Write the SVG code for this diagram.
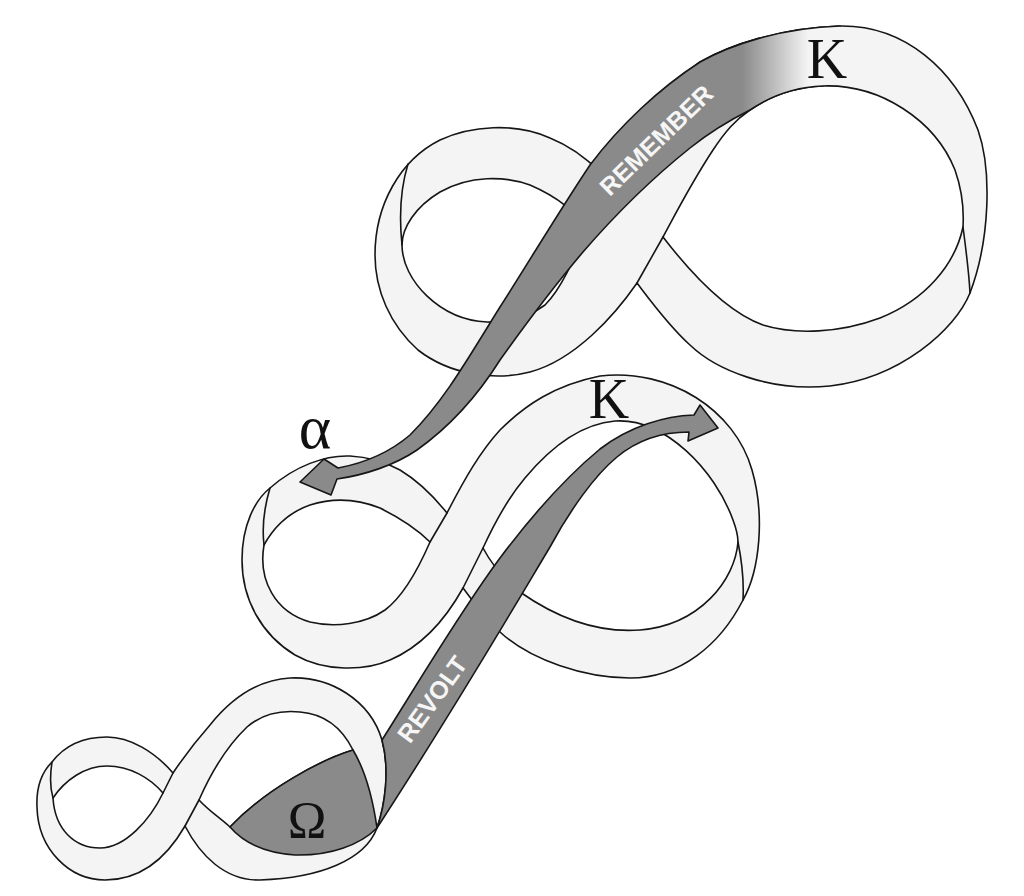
<svg xmlns="http://www.w3.org/2000/svg" width="1024" height="896" viewBox="0 0 1024 896">
  <defs>
    <style>
      .rib { fill: #f4f4f4; fill-rule: evenodd; stroke: #161616; stroke-width: 1.6; stroke-linejoin: round; }
      .edge { fill: none; stroke: #161616; stroke-width: 1.6; stroke-linejoin: round; stroke-linecap: round; }
      .band { stroke: none; }
      .gray { fill: #8a8a8a; }
      .serif { font-family: "Liberation Serif", "Times New Roman", serif; fill: #111; }
      .bandtxt { font-family: "Liberation Sans", Arial, sans-serif; font-weight: bold; font-size: 25px; fill: #f6f6f6; text-anchor: middle; }
    </style>
    <linearGradient id="fade" gradientUnits="userSpaceOnUse" x1="742" y1="0" x2="808" y2="0">
      <stop offset="0" stop-color="#8a8a8a"/>
      <stop offset="0.55" stop-color="#c4c4c4"/>
      <stop offset="1" stop-color="#f4f4f4"/>
    </linearGradient>
  </defs>
  <rect width="1024" height="896" fill="#ffffff"/>

  <!-- top figure-eight ribbon -->
  <g id="loop-top">
    <path class="rib" d="M600,172 C615,140 650,100 700,62 C730,45 780,28 840,26 C905,25 955,70 978,130 C992,170 990,240 970,293 C955,330 900,378 830,386 C770,392 716,370 690,345 C668,325 650,300 637,283 C615,315 575,360 530,372 C495,381 450,375 418,350 C390,325 375,290 375,255 C375,205 400,160 440,140 C470,126 515,122 550,138 C570,146 588,160 600,172 Z
      M585,228 C575,212 560,198 530,185 C505,176 470,175 440,192 C415,207 402,228 402,245 C402,280 440,320 487,322 C510,323 530,316 545,305 C560,290 575,260 585,228 Z
      M663,237 C675,215 690,185 713,150 C725,132 735,120 750,110 C772,95 795,87 823,86 C880,84 935,120 955,170 C962,190 964,210 963,227 C955,265 925,300 880,318 C840,333 795,335 763,325 C735,315 700,285 663,237 Z"/>
    <path class="edge" d="M585,228 C590,210 595,190 600,172 M637,283 L663,237 M408,164 C400,190 399,216 402,245 M963,227 C966,250 969,272 970,293"/>
  </g>

  <!-- middle figure-eight ribbon -->
  <g id="loop-middle">
    <path class="rib" d="M447,513 C465,478 480,452 500,430 C525,405 555,385 600,376 C670,368 735,410 752,470 C765,515 760,570 743,600 C720,645 680,678 630,678 C585,678 530,660 500,632 C485,618 472,600 463,588 C448,615 425,645 390,660 C365,671 325,672 295,655 C262,635 242,600 242,560 C242,525 255,500 270,488 C295,466 325,455 350,456 C370,457 385,462 400,470 C420,482 435,498 447,513 Z
      M430,542 C418,530 400,518 380,508 C360,500 335,497 310,505 C290,512 275,525 264,545 C258,580 275,612 310,622 C335,628 365,624 385,610 C405,595 420,565 430,542 Z
      M483,548 C495,522 508,498 525,478 C550,448 580,424 615,421 C665,418 715,470 733,520 C736,528 738,535 738,542 C735,580 700,625 640,630 C600,633 560,620 520,592 C505,580 492,565 483,548 Z"/>
    <path class="edge" d="M430,542 L447,513 M463,588 L483,548 M270,488 C264,508 262,528 264,545 M738,542 C742,562 744,582 743,600"/>
  </g>

  <!-- bottom figure-eight ribbon -->
  <g id="loop-bottom">
    <path class="rib" d="M173,773 C185,755 195,742 210,725 C230,700 255,680 290,678 C330,676 370,700 382,740 C390,770 385,805 377,828 C365,860 320,878 260,880 C225,881 200,855 185,826 C170,852 145,880 105,880 C70,880 38,850 37,807 C36,785 42,772 52,762 C65,745 85,737 107,737 C130,737 155,752 173,773 Z
      M163,793 C150,778 130,766 107,766 C85,766 65,780 53,798 C55,830 75,848 100,848 C125,848 150,820 163,793 Z
      M199,800 C210,775 225,748 247,727 C262,714 280,710 300,712 C325,714 342,728 353,750 C320,760 265,790 230,827 C220,818 208,810 199,800 Z"/>
    <path class="edge" d="M163,793 L173,773 M185,826 L199,800 M52,762 C50,775 50,788 53,798"/>
    <path id="omega-patch" class="gray" stroke="#161616" stroke-width="1.6" stroke-linejoin="round" d="M230,827 C265,790 320,760 353,750 C365,770 373,800 377,828 C360,845 330,856 295,855 C265,853 243,842 230,827 Z"/>
  </g>

  <!-- REMEMBER band ending in the alpha arrow -->
  <g id="band-remember">
    <path class="band" fill="url(#fade)" d="M840,26 C780,28 730,45 700,62 C660,88 620,125 590,165 C560,210 530,260 500,307 C470,355 445,400 410,435 C390,452 365,463 338,468 L324,459 L300,482 L331,495 L337,479 C365,475 395,465 417,450 C445,430 475,400 500,360 C525,325 555,285 583,252 C615,215 650,180 690,148 C710,132 730,120 750,110 C772,95 795,87 823,86 Z"/>
    <path class="edge" d="M840,26 C780,28 730,45 700,62 C660,88 620,125 590,165 C560,210 530,260 500,307 C470,355 445,400 410,435 C390,452 365,463 338,468 L324,459 L300,482 L331,495 L337,479 C365,475 395,465 417,450 C445,430 475,400 500,360 C525,325 555,285 583,252 C615,215 650,180 690,148 C710,132 730,120 750,110 C772,95 795,87 823,86"/>
    <text class="bandtxt" transform="translate(656,140) rotate(-44)" y="9">REMEMBER</text>
  </g>

  <!-- REVOLT band ending in the kappa arrow -->
  <g id="band-revolt">
    <path class="gray" stroke="#161616" stroke-width="1.6" stroke-linejoin="round" d="M382,740 C420,680 460,612 500,558 C530,518 565,478 600,449 C630,426 665,416 694,415 L700,405 L718,428 L688,441 L689,432 C660,432 635,442 617,457 C595,475 570,510 550,547 C520,597 460,700 377,828 C385,805 390,770 382,740 Z"/>
    <text class="bandtxt" transform="translate(432,699) rotate(-54)" y="9">REVOLT</text>
  </g>

  <!-- letters -->
  <g id="labels">
    <text class="serif" x="827" y="78" font-size="56" text-anchor="middle">K</text>
    <text class="serif" x="609" y="418" font-size="56" text-anchor="middle">K</text>
    <text class="serif" x="315" y="448" font-size="62" text-anchor="middle">α</text>
    <text class="serif" x="307" y="838" font-size="52" text-anchor="middle">Ω</text>
  </g>
</svg>
